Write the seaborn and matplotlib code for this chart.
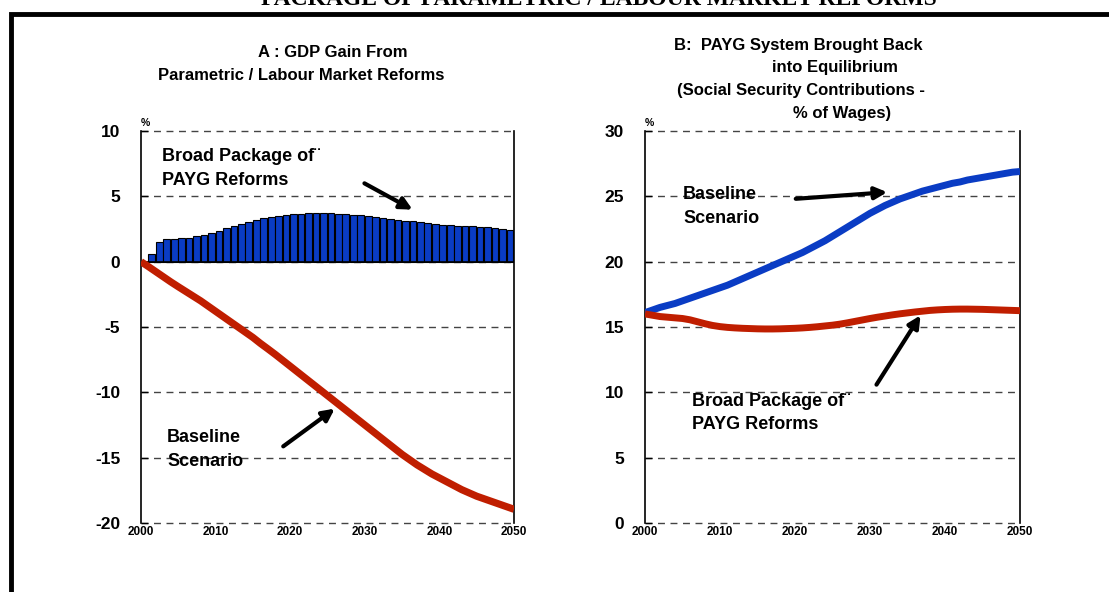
import matplotlib.pyplot as plt
import seaborn as sns
import numpy as np
from matplotlib.patches import Rectangle, FancyArrowPatch

# ---- data ----
years = np.arange(2000, 2051)

# panel A: GDP gain (%), bars 2001-2049
bar_years = np.arange(2001, 2050)
gdp_broad = [0.58, 1.52, 1.72, 1.77, 1.79, 1.84, 1.94, 2.05, 2.17, 2.35,
             2.55, 2.73, 2.90, 3.06, 3.18, 3.31, 3.41, 3.48, 3.54, 3.61,
             3.66, 3.69, 3.71, 3.71, 3.69, 3.66, 3.64, 3.59, 3.54, 3.48,
             3.41, 3.36, 3.28, 3.21, 3.13, 3.08, 3.00, 2.93, 2.88, 2.83,
             2.78, 2.75, 2.73, 2.70, 2.68, 2.63, 2.58, 2.50, 2.45]
gdp_baseline = [0.0, -0.38, -0.77, -1.16, -1.55, -1.92, -2.28, -2.64, -3.0, -3.4,
                -3.8, -4.2, -4.6, -5.0, -5.4, -5.8, -6.25, -6.67, -7.1, -7.55,
                -8.0, -8.45, -8.9, -9.35, -9.8, -10.25, -10.7, -11.15, -11.6, -12.05,
                -12.5, -12.95, -13.4, -13.85, -14.3, -14.75, -15.15, -15.55, -15.9, -16.25,
                -16.55, -16.85, -17.15, -17.45, -17.7, -17.95, -18.15, -18.35, -18.55, -18.75,
                -18.95]

# panel B: social security contributions (% of wages)
ssc_baseline = [16.1, 16.3, 16.5, 16.65, 16.8, 17.0, 17.2, 17.4, 17.6, 17.8,
                18.0, 18.2, 18.45, 18.7, 18.95, 19.2, 19.45, 19.7, 19.95, 20.2,
                20.45, 20.7, 21.0, 21.3, 21.6, 21.95, 22.3, 22.65, 23.0, 23.35,
                23.7, 24.0, 24.3, 24.55, 24.8, 25.0, 25.2, 25.4, 25.55, 25.7,
                25.85, 26.0, 26.1, 26.25, 26.35, 26.45, 26.55, 26.65, 26.75, 26.85,
                26.9]
ssc_broad = [16.0, 15.9, 15.8, 15.75, 15.7, 15.65, 15.55, 15.4, 15.25, 15.12,
             15.03, 14.97, 14.93, 14.9, 14.88, 14.86, 14.85, 14.85, 14.86, 14.88,
             14.9, 14.93, 14.97, 15.02, 15.08, 15.14, 15.22, 15.32, 15.43, 15.54,
             15.65, 15.75, 15.84, 15.93, 16.01, 16.08, 16.15, 16.21, 16.27, 16.31,
             16.34, 16.36, 16.37, 16.37, 16.36, 16.35, 16.33, 16.31, 16.29, 16.27,
             16.25]

x_ticks = [2000, 2010, 2020, 2030, 2040, 2050]
yticks_a = [-20, -15, -10, -5, 0, 5, 10]
yticks_b = [0, 5, 10, 15, 20, 25, 30]

RED = "#C01E00"
BLUE = "#0A3CC4"

sns.set_theme(style="white")
plt.rcParams["font.family"] = ["Liberation Sans", "DejaVu Sans"]
plt.rcParams["font.weight"] = "bold"
plt.rcParams["lines.solid_capstyle"] = "butt"
for k in ("text.color", "axes.labelcolor", "xtick.color", "ytick.color"):
    plt.rcParams[k] = "black"

W, H = 1109, 592
fig = plt.figure(figsize=(W / 100, H / 100), dpi=100)


def px(x, y):
    # figure pixel coordinates measured from top-left
    return x / W, 1 - y / H


def setup_axes(ax, ylim, yticks):
    ax.set_xlim(2000, 2050)
    ax.set_ylim(*ylim)
    ax.set_yticks(yticks)
    ax.set_xticks(x_ticks)
    ax.set_xticklabels([str(t) for t in x_ticks], fontsize=8.5, fontweight="bold")
    ax.set_yticklabels([str(t) for t in yticks], fontsize=12.5, fontweight="bold")
    ax.tick_params(axis="y", direction="in", length=5, width=1, pad=15, left=True)
    ax.tick_params(axis="x", length=0, pad=2)
    ax.set_xlabel("")
    ax.set_ylabel("")
    ax.spines["top"].set_visible(False)
    ax.spines["bottom"].set_visible(False)
    for s in ("left", "right"):
        ax.spines[s].set_color("black")
        ax.spines[s].set_linewidth(1.2)
    ax.grid(axis="y", color="#444444", linestyle=(0, (5, 4)), linewidth=1)
    ax.grid(axis="x", visible=False)
    for gl in ax.get_ygridlines():
        gl.set_clip_on(False)
    ax.set_axisbelow(True)


# ---- panel A ----
axA = fig.add_axes([141 / W, 1 - 523 / H, 373 / W, 392 / H])
sns.barplot(x=bar_years + 0.45, y=gdp_broad, native_scale=True, width=0.9,
            color=BLUE, saturation=1, edgecolor="black", linewidth=0.8,
            errorbar=None, ax=axA)
axA.axhline(0, color="black", lw=1.2, zorder=3)
sns.lineplot(x=years, y=gdp_baseline, color=RED, lw=5.2, ax=axA, zorder=4)
setup_axes(axA, (-20, 10), yticks_a)

# ---- panel B ----
axB = fig.add_axes([645 / W, 1 - 523 / H, 375 / W, 392 / H])
sns.lineplot(x=years, y=ssc_baseline, color=BLUE, lw=5, ax=axB, zorder=4)
sns.lineplot(x=years, y=ssc_broad, color=RED, lw=5, ax=axB, zorder=4)
setup_axes(axB, (0, 30), yticks_b)

# ---- titles ----
# page title, cut off by the top edge as in the source
fig.text(*px(599, 5), "PACKAGE OF PARAMETRIC / LABOUR MARKET REFORMS",
         family="Liberation Serif", fontsize=17, fontweight="bold",
         ha="center", va="baseline")

fig.text(*px(258, 57), "A : GDP Gain From", fontsize=12, ha="left", va="baseline")
fig.text(*px(158, 80), "Parametric / Labour Market Reforms", fontsize=12,
         ha="left", va="baseline")

fig.text(*px(674, 50), "B:  PAYG System Brought Back", fontsize=12, ha="left", va="baseline")
fig.text(*px(772, 72), "into Equilibrium", fontsize=12, ha="left", va="baseline")
fig.text(*px(677, 95), "(Social Security Contributions -", fontsize=12, ha="left", va="baseline")
fig.text(*px(793, 118), "% of Wages)", fontsize=12, ha="left", va="baseline")

fig.text(*px(141, 126), "%", fontsize=7.5, ha="left", va="baseline")
fig.text(*px(645, 126), "%", fontsize=7.5, ha="left", va="baseline")

# ---- annotations ----
lab = dict(fontsize=13, ha="left", va="baseline")
fig.text(*px(162, 161), "Broad Package of\u00a8", **lab)
fig.text(*px(162, 185), "PAYG Reforms", **lab)
fig.text(*px(167, 442), "Baseline", **lab)
fig.text(*px(167, 466), "Scenario", **lab)
fig.text(*px(683, 199), "Baseline", **lab)
fig.text(*px(683, 223), "Scenario", **lab)
fig.text(*px(692, 406), "Broad Package of\u00a8", **lab)
fig.text(*px(692, 429), "PAYG Reforms", **lab)

arrows = [((362, 182), (415, 211)),
          ((281, 448), (337, 407)),
          ((793, 199), (890, 192)),
          ((875, 387), (922, 313))]
for (x0, y0), (x1, y1) in arrows:
    fig.add_artist(FancyArrowPatch(
        (x0 / W, 1 - y0 / H), (x1 / W, 1 - y1 / H), transform=fig.transFigure,
        arrowstyle="-|>", mutation_scale=18, lw=3, color="black"))

# ---- outer frame ----
fig.add_artist(Rectangle((10.5 / W, -0.2), 1.2, 1.2 - 14 / H, transform=fig.transFigure,
                         fill=False, edgecolor="black", lw=3.5))

fig.savefig("out.png", dpi=100)
plt.close(fig)
